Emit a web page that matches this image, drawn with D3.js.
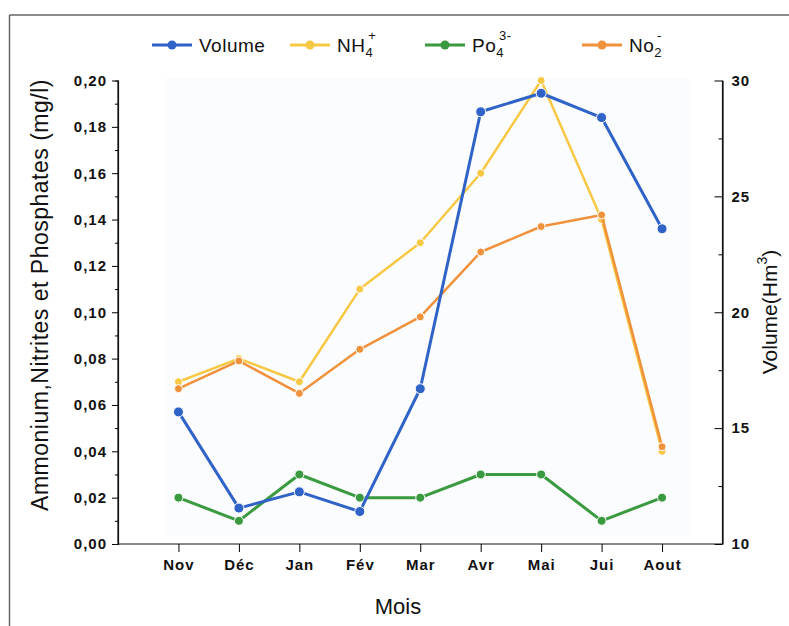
<!DOCTYPE html>
<html>
<head>
<meta charset="utf-8">
<script src="https://cdn.jsdelivr.net/npm/d3@7"></script>
<style>
  body { margin: 0; background: #fff; }
  svg { display: block; font-family: "Liberation Sans", Arial, sans-serif; }
</style>
</head>
<body>
<svg id="chart" width="789" height="626"></svg>
<script>
const months = ["Nov", "Déc", "Jan", "Fév", "Mar", "Avr", "Mai", "Jui", "Aout"];
const volume = [15.7, 11.55, 12.25, 11.4, 16.7, 28.65, 29.45, 28.4, 23.6];
const nh4 = [0.070, 0.080, 0.070, 0.110, 0.130, 0.160, 0.200, 0.140, 0.040];
const no2 = [0.067, 0.079, 0.065, 0.084, 0.098, 0.126, 0.137, 0.142, 0.042];
const po4 = [0.020, 0.010, 0.030, 0.020, 0.020, 0.030, 0.030, 0.010, 0.020];
const leftTicks = [0, 0.02, 0.04, 0.06, 0.08, 0.10, 0.12, 0.14, 0.16, 0.18, 0.20];
const rightTicks = [10, 15, 20, 25, 30];

const svg = d3.select("#chart");
const x = d3.scaleLinear().domain([-1, 9]).range([118, 722.5]);
const yL = d3.scaleLinear().domain([0, 0.2]).range([544, 80.5]);
const yR = d3.scaleLinear().domain([10, 30]).range([544, 80.5]);

// outer frame
svg.append("line").attr("x1", 9.5).attr("x2", 9.5).attr("y1", 15).attr("y2", 626).attr("stroke", "#666").attr("stroke-width", 1.5);
svg.append("line").attr("x1", 9.5).attr("x2", 789).attr("y1", 15).attr("y2", 15).attr("stroke", "#666").attr("stroke-width", 1.5);

// faint plot background
svg.append("rect").attr("x", 165).attr("y", 78).attr("width", 525).attr("height", 458).attr("fill", "#fbfcfe");

// left axis
const gL = svg.append("g").attr("transform", "translate(118,0)");
gL.call(d3.axisLeft(yL).tickValues(leftTicks).tickSize(6).tickPadding(5)
  .tickFormat(d => d3.format(".2f")(d).replace(".", ",")));
gL.append("g").call(d3.axisLeft(yL).tickValues(d3.range(0.01, 0.2, 0.02)).tickSize(3).tickFormat(""));
gL.select(".domain").attr("d", "M0,544V80.5");

// right axis
const gR = svg.append("g").attr("transform", "translate(722.5,0)");
gR.call(d3.axisRight(yR).tickValues(rightTicks).tickSize(0).tickPadding(9));
gR.selectAll(".tick").append("line").attr("x1", 0).attr("x2", -8).attr("stroke", "#000");
gR.append("g").call(d3.axisRight(yR).tickValues([12.5, 17.5, 22.5, 27.5]).tickSize(0).tickFormat(""))
  .selectAll(".tick").append("line").attr("x1", 0).attr("x2", -4).attr("stroke", "#000");
gR.select(".domain").attr("d", "M0,544V80.5");

// bottom axis
const gB = svg.append("g").attr("transform", "translate(0,544)");
gB.call(d3.axisBottom(x).tickValues(d3.range(0, 9)).tickSize(8).tickPadding(7).tickFormat(i => months[i]));
gB.select(".domain").attr("d", "M118,0H722.5");

svg.selectAll(".tick text").attr("font-size", 15).attr("font-weight", "bold").attr("fill", "#111")
  .attr("letter-spacing", 1).attr("font-family", "'Liberation Sans', Arial, sans-serif");
svg.selectAll(".domain").attr("stroke", "#111").attr("stroke-width", 1.2);

// series
const series = [
  { name: "NH4", values: nh4, scale: yL, color: "#f7c843", w: 2.5, r: 4 },
  { name: "NO2", values: no2, scale: yL, color: "#f0913c", w: 2.5, r: 4 },
  { name: "PO4", values: po4, scale: yL, color: "#3a9a3f", w: 3, r: 4.5 },
  { name: "Volume", values: volume, scale: yR, color: "#2f63c7", w: 3, r: 5 }
];
series.forEach(s => {
  const line = d3.line().x((d, i) => x(i)).y(d => s.scale(d));
  svg.append("path").datum(s.values).attr("fill", "none").attr("stroke", s.color)
    .attr("stroke-width", s.w).attr("stroke-linejoin", "round").attr("d", line);
  svg.append("g").selectAll("circle").data(s.values).join("circle")
    .attr("cx", (d, i) => x(i)).attr("cy", d => s.scale(d)).attr("r", s.r)
    .attr("fill", s.color).attr("stroke", "#fff").attr("stroke-width", 1);
});

// legend
const legend = [
  { x: 152, color: "#2f63c7", label: "Volume", sub: null, sup: null },
  { x: 290, color: "#f7c843", label: "NH", sub: "4", sup: "+" },
  { x: 425, color: "#3a9a3f", label: "Po", sub: "4", sup: "3-" },
  { x: 582, color: "#f0913c", label: "No", sub: "2", sup: "-" }
];
legend.forEach(l => {
  const g = svg.append("g").attr("transform", `translate(${l.x},45)`);
  g.append("line").attr("x1", 0).attr("x2", 40).attr("stroke", l.color).attr("stroke-width", 3);
  g.append("circle").attr("cx", 20).attr("r", 4.5).attr("fill", l.color);
  const t = g.append("text").attr("x", 47).attr("y", 7).attr("font-size", 19)
    .attr("letter-spacing", 0.5).attr("fill", "#111");
  t.append("tspan").text(l.label);
  if (l.sub) {
    t.append("tspan").attr("font-size", 13).attr("dy", 5).text(l.sub);
    t.append("tspan").attr("font-size", 13).attr("dy", -17).attr("dx", -5).text(l.sup);
  }
});

// axis titles
svg.append("text").attr("transform", "translate(48,295) rotate(-90)").attr("text-anchor", "middle")
  .attr("font-size", 23).attr("letter-spacing", 0.5).attr("fill", "#111")
  .text("Ammonium,Nitrites et Phosphates (mg/l)");
const rt = svg.append("text").attr("transform", "translate(777,312) rotate(-90)").attr("text-anchor", "middle")
  .attr("font-size", 21).attr("fill", "#111");
rt.append("tspan").text("Volume(Hm");
rt.append("tspan").attr("font-size", 14).attr("dy", -10).text("3");
rt.append("tspan").attr("dy", 10).text(")");
svg.append("text").attr("x", 398).attr("y", 614).attr("text-anchor", "middle")
  .attr("font-size", 22).attr("fill", "#111").text("Mois");
</script>
</body>
</html>
